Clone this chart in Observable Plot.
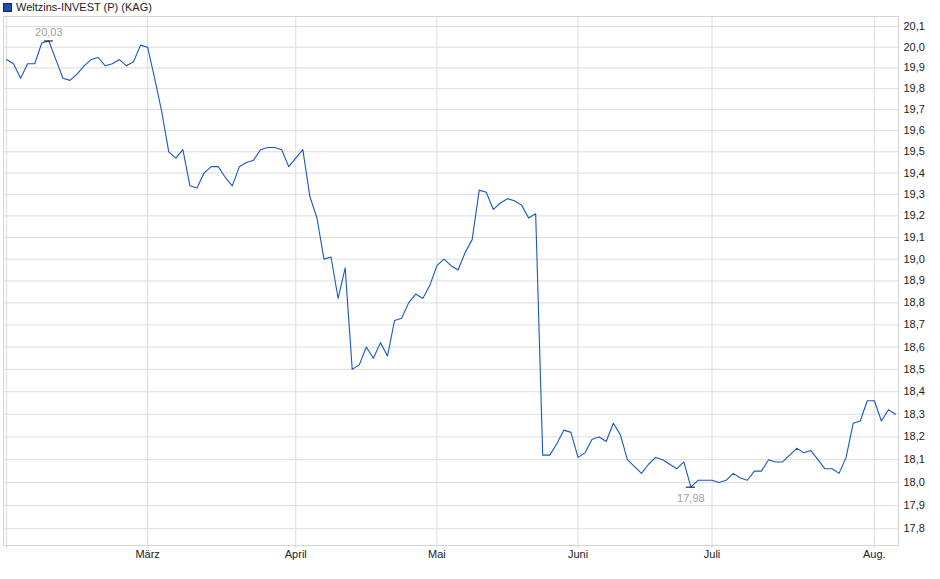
<!DOCTYPE html>
<html>
<head>
<meta charset="utf-8">
<script src="https://cdn.jsdelivr.net/npm/d3@7"></script>
<script src="https://cdn.jsdelivr.net/npm/@observablehq/plot@0.6"></script>
<style>
  html, body { margin: 0; padding: 0; background: #fff; }
  #wrap { position: relative; width: 940px; height: 579px; font-family: "Liberation Sans", Arial, sans-serif; }
  #legend { position: absolute; left: 3px; top: 1px; font-size: 11px; color: #222; display: flex; align-items: center; }
  #legend .sw { width: 7px; height: 7px; background: #1d4fa6; border: 1px solid #0b2a66; margin-right: 4px; }
</style>
</head>
<body>
<div id="wrap">
  <div id="chart"></div>
  <div id="legend"><span class="sw"></span><span id="legendText"></span></div>
</div>
<script>
const seriesName = "Weltzins-INVEST (P) (KAG)";

// daily prices (trading days, in order)
const prices = [
  19.94, 19.92, 19.85, 19.92, 19.92, 20.02, 20.03, 19.94, 19.85, 19.84,
  19.87, 19.91, 19.94, 19.95, 19.91, 19.92, 19.94, 19.91, 19.93, 20.01,
  20.00, 19.85, 19.69, 19.50, 19.47, 19.51, 19.34, 19.33, 19.40, 19.43,
  19.43, 19.38, 19.34, 19.43, 19.45, 19.46, 19.51, 19.52, 19.52, 19.51,
  19.43, 19.47, 19.51, 19.29, 19.19, 19.00, 19.01, 18.82, 18.96, 18.50,
  18.52, 18.60, 18.55, 18.62, 18.56, 18.72, 18.73, 18.80, 18.84, 18.82,
  18.88, 18.97, 19.00, 18.97, 18.95, 19.03, 19.09, 19.32, 19.31, 19.23,
  19.26, 19.28, 19.27, 19.25, 19.19, 19.21, 18.12, 18.12, 18.17, 18.23,
  18.22, 18.11, 18.13, 18.19, 18.20, 18.18, 18.26, 18.21, 18.10, 18.07,
  18.04, 18.08, 18.11, 18.10, 18.08, 18.06, 18.09, 17.98, 18.01, 18.01,
  18.01, 18.00, 18.01, 18.04, 18.02, 18.01, 18.05, 18.05, 18.10, 18.09,
  18.09, 18.12, 18.15, 18.13, 18.14, 18.10, 18.06, 18.06, 18.04, 18.11,
  18.26, 18.27, 18.36, 18.36, 18.27, 18.32, 18.30
];

// month boundaries (trading-day index) and their labels
const monthIndex = [0, 20, 41, 61, 81, 100, 123];
const monthLabels = ["", "März", "April", "Mai", "Juni", "Juli", "Aug."];

// y axis tick values
const yTicks = [17.8, 17.9, 18.0, 18.1, 18.2, 18.3, 18.4, 18.5, 18.6, 18.7, 18.8, 18.9,
                19.0, 19.1, 19.2, 19.3, 19.4, 19.5, 19.6, 19.7, 19.8, 19.9, 20.0, 20.1];

const data = prices.map((v, i) => ({i, v}));
const labelMap = new Map(monthIndex.map((m, k) => [m, monthLabels[k]]));
const fmt = v => v.toFixed(2).replace(".", ",");
const maxPt = data[d3.maxIndex(data, d => d.v)];
const minPt = data[d3.minIndex(data, d => d.v)];

document.getElementById("legendText").textContent = seriesName;

const chart = Plot.plot({
  width: 940,
  height: 579,
  marginLeft: 3,
  marginRight: 42,
  marginTop: 16,
  marginBottom: 34,
  style: {fontFamily: "'Liberation Sans', Arial, sans-serif", fontSize: "11px", background: "#fff", color: "#222"},
  x: {domain: [-0.425, prices.length - 1 + 0.425], axis: null},
  y: {type: "log", domain: [17.728, 20.149], axis: null},
  marks: [
    Plot.gridY(yTicks, {stroke: "#dcdcdc", strokeOpacity: 1}),
    Plot.gridX(monthIndex, {stroke: "#dcdcdc", strokeOpacity: 1}),
    Plot.frame({stroke: "#d4d4d4"}),
    Plot.axisY(yTicks, {anchor: "right", label: null, tickSize: 0, tickPadding: 5, fill: "#222",
      tickFormat: d => d.toFixed(1).replace(".", ",")}),
    Plot.axisX(monthIndex, {anchor: "bottom", label: null, tickSize: 3, tickPadding: 2, stroke: "#d4d4d4", fill: "#222",
      tickFormat: d => labelMap.get(d)}),
    Plot.line(data, {x: "i", y: "v", stroke: "#1a56c4", strokeWidth: 1.1}),
    Plot.ruleY([maxPt, minPt], {x1: d => d.i - 0.65, x2: d => d.i + 0.65, y: "v", stroke: "#000", strokeWidth: 1}),
    Plot.text([maxPt], {x: "i", y: "v", text: d => fmt(d.v), dy: -9, fill: "#a0a0a0"}),
    Plot.text([minPt], {x: "i", y: "v", text: d => fmt(d.v), dy: 11, fill: "#a0a0a0"})
  ]
});
document.getElementById("chart").appendChild(chart);
</script>
</body>
</html>
